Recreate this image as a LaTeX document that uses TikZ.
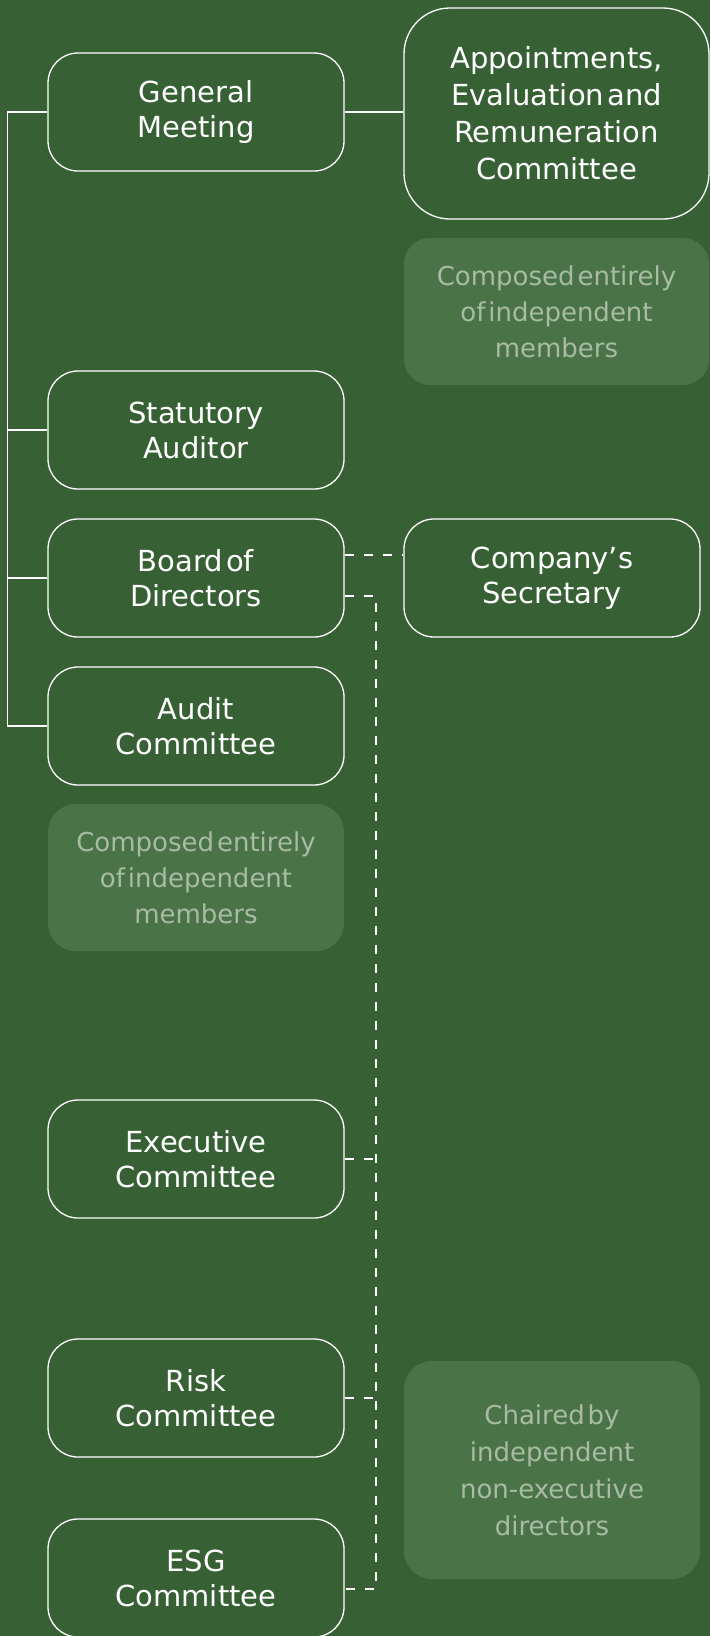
\documentclass[tikz,border=0pt]{standalone}
\usepackage{fontspec}
\setmainfont{DejaVu Sans}
\newfontfamily\mainf[WordSpace=0.55]{DejaVu Sans}
\newfontfamily\notef[WordSpace=0.35]{DejaVu Sans}
\definecolor{bg}{RGB}{55,97,52}
\definecolor{notefill}{RGB}{74,116,72}
\definecolor{notetext}{RGB}{168,187,164}
\tikzset{
  orgbox/.style={draw=white, line width=1.3pt, fill=bg, rectangle, rounded corners=30pt,
    minimum width=296pt, minimum height=118pt, inner sep=0pt, align=center, text=white,
    font=\mainf\fontsize{29}{35}\selectfont},
  notebox/.style={fill=notefill, draw=none, rectangle, rounded corners=28pt,
    minimum width=296pt, minimum height=147pt, inner sep=0pt, align=center, text=notetext,
    font=\notef\fontsize{26}{36}\selectfont},
  solidline/.style={draw=white, line width=1.3pt},
  dashline/.style={draw=white, line width=1.3pt, dash pattern=on 9pt off 10pt}
}
\begin{document}
\begin{tikzpicture}[x=1pt,y=-1pt]
\fill[bg] (0,0) rectangle (710,1636);
\useasboundingbox (0,0) rectangle (710,1636);
\begin{scope}
\clip (0,0) rectangle (710,1636);
% left column
\node[orgbox] (gm) at (196,112) {General\\Meeting};
\node[orgbox] (sa) at (196,430) {Statutory\\Auditor};
\node[orgbox] (bd) at (196,578) {Board of\\Directors};
\node[orgbox] (ac) at (196,726) {Audit\\Committee};
\node[notebox] (n2) at (196,877.5) {Composed entirely\\of independent\\members};
\node[orgbox] (ex) at (196,1159) {Executive\\Committee};
\node[orgbox] (rc) at (196,1398) {Risk\\Committee};
\node[orgbox] (esg) at (196,1578) {ESG\\Committee};
% right column
\node[orgbox, rounded corners=46pt, minimum width=305pt, minimum height=211pt,
  font=\mainf\fontsize{29}{37}\selectfont] (app) at (556.5,113.5)
  {Appointments,\\Evaluation and\\Remuneration\\Committee};
\node[notebox, minimum width=305pt, rounded corners=26pt] (n1) at (556.5,311.5) {Composed entirely\\of independent\\members};
\node[orgbox] (sec) at (552,578) {Company’s\\Secretary};
\node[notebox, minimum height=218pt, font=\notef\fontsize{26}{37}\selectfont] (n3) at (552,1470) {Chaired by\\independent\\non-executive\\directors};
% solid connectors
\coordinate (lb) at (7.5,0);
\draw[solidline] (gm.west) -- (gm.west -| lb) -- (ac.west -| lb) -- (ac.west);
\draw[solidline] (sa.west) -- (sa.west -| lb);
\draw[solidline] (bd.west) -- (bd.west -| lb);
\draw[solidline] (gm.east) -- (gm.east -| app.west);
% dashed connectors
\coordinate (busTop) at (376,596);
\coordinate (busBot) at (376,1589);
\draw[dashline] ([yshift=23pt]bd.east) -- ([yshift=23pt]sec.west);
\draw[dashline] ([yshift=-18pt]bd.east) -- (busTop) -- (busBot) -- ([yshift=-11pt]esg.east);
\draw[dashline] (ex.east) -- (ex.east -| busTop);
\draw[dashline] (rc.east) -- (rc.east -| busTop);
\end{scope}
\end{tikzpicture}
\end{document}
